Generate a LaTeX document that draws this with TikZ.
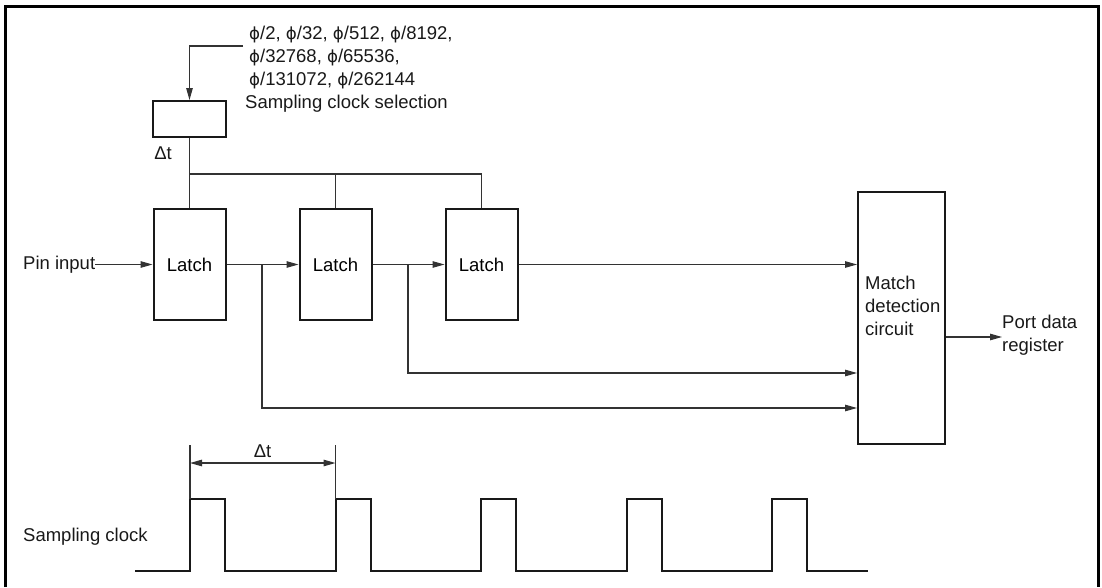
\documentclass[tikz,border=0pt]{standalone}
\usepackage{fontspec}
\setmainfont{Liberation Sans}
\newfontfamily\phifont{DejaVu Sans}[Scale=0.9]
\newcommand{\ph}{{\phifont ϕ}}
\usetikzlibrary{arrows.meta}
\begin{document}
\begin{tikzpicture}[x=1pt,y=-1pt,
  font=\fontsize{18.5}{23}\selectfont,
  box/.style={draw=black!90, line width=2pt, inner sep=0pt},
  txt/.style={inner sep=0pt, align=left, text=black!90},
  wire/.style={line width=1.1pt, draw=black!80},
  tipa/.tip={Triangle[length=12pt,width=6.5pt]},
  arr/.style={wire, -tipa},
  wave/.style={line width=2pt, draw=black!90, line join=miter},
]
\useasboundingbox (0,0) rectangle (1102,587);
\draw[line width=3pt] (5,587) -- (5,6) -- (1098,6) -- (1098,587);

% nodes
\node[box, minimum width=73pt, minimum height=36pt] (sel) at (189.5,119) {};
\node[txt, anchor=west] (seltxt) at (245,69.5) {\hspace{4pt}\ph/2, \ph/32, \ph/512, \ph/8192,\\ \hspace{4pt}\ph/32768, \ph/65536,\\ \hspace{4pt}\ph/131072, \ph/262144\\Sampling clock selection};
\node[txt] (dt1) at (163,153) {Δt};

\node[box, minimum width=72pt, minimum height=111pt] (l1) at (189.5,264.5) {Latch};
\node[box, minimum width=72pt, minimum height=111pt] (l2) at (335.5,264.5) {Latch};
\node[box, minimum width=72pt, minimum height=111pt] (l3) at (481.5,264.5) {Latch};

\node[box, minimum width=87pt, minimum height=252pt] (match) at (901.5,318) {};
\node[txt, anchor=west] (matchtxt) at (865,306) {Match\\detection\\circuit};

\node[txt, anchor=west] (pin) at (23,264.5) {Pin input};
\node[txt, anchor=west] (port) at (1002,335) {Port data\\register};
\node[txt, anchor=west] (clk) at (23,537) {Sampling clock};
\node[txt] (dt2) at (262.5,451) {Δt};

% connectors
\coordinate (selin) at (243,46);
\draw[arr] (selin) -| (sel.north);
\draw[wire] (sel.south) -- (l1.north);
\coordinate (bus) at (0,174);
\draw[wire] (l1.north |- bus) -| (l3.north);
\draw[wire] (l2.north |- bus) -- (l2.north);

\draw[arr] (pin.east) -- (l1.west);
\draw[arr] (l1.east) -- (l2.west);
\draw[arr] (l2.east) -- (l3.west);
\draw[arr] (l3.east) -- (match.west |- l3.east);

\coordinate (b1) at (262,264.5);
\coordinate (b2) at (408,264.5);
\coordinate (y2) at (0,373);
\coordinate (y1) at (0,408);
\draw[arr] (b2) |- (match.west |- y2);
\draw[arr] (b1) |- (match.west |- y1);

\coordinate (yo) at (0,337);
\draw[arr] (match.east |- yo) -- (port.west |- yo);

% sampling clock waveform
\draw[wave] (135,571) -| (190,499) -| (225,571) -| (335.5,499) -| (370.5,571)
  -| (481,499) -| (516,571) -| (626.5,499) -| (661.5,571)
  -| (772,499) -| (807,571) -- (868,571);

\coordinate (t1) at (190,445);
\coordinate (t2) at (335.5,445);
\draw[wire] (t1) -- (190,499);
\draw[wire] (t2) -- (335.5,499);
\draw[wire, tipa-tipa] (190,463) -- (335.5,463);
\end{tikzpicture}
\end{document}
